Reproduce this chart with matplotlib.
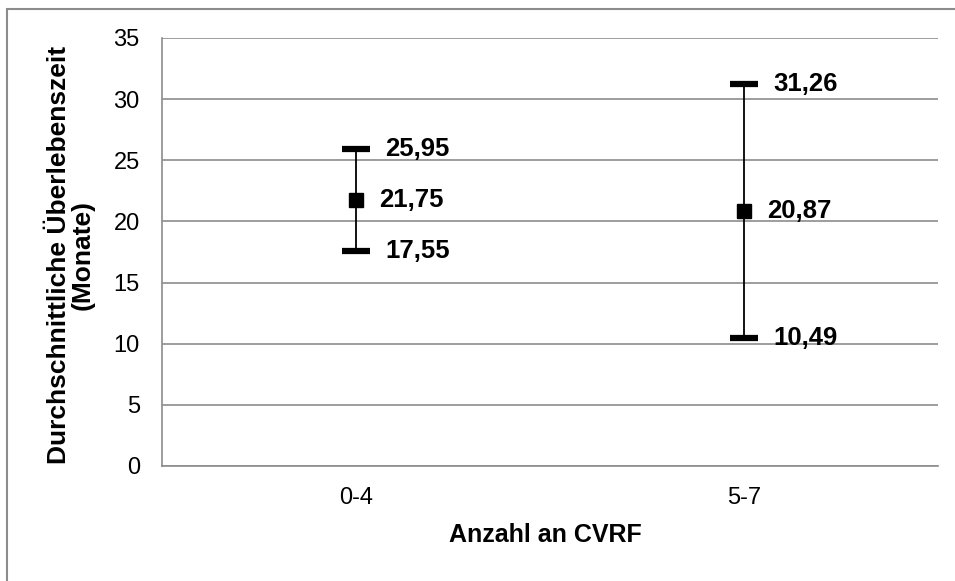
import matplotlib
matplotlib.use('Agg')
import matplotlib.pyplot as plt
from matplotlib.patches import Rectangle

plt.rcParams['font.family'] = ['Liberation Sans', 'DejaVu Sans']

# Mittlere Überlebenszeit mit Konfidenzgrenzen je CVRF-Gruppe
groups = ["0-4", "5-7"]
means = [21.75, 20.87]
lower = [17.55, 10.49]
upper = [25.95, 31.26]
yticks = [0, 5, 10, 15, 20, 25, 30, 35]

fig = plt.figure(figsize=(9.55, 5.81), dpi=100)
ax = fig.add_axes([162 / 955, 1 - 466 / 581, 776 / 955, 428 / 581])

# Rahmen um das Diagramm (rechts/unten abgeschnitten)
fig.patches.append(Rectangle((6.5 / 955, -0.1), 1.2, 1 - 8.5 / 581 + 0.1,
                             transform=fig.transFigure, fill=False,
                             edgecolor='#8c8c8c', linewidth=1.5))


def fmt(v):
    return f"{v:.2f}".replace('.', ',')


x = list(range(len(groups)))
for i in x:
    ax.plot([i, i], [lower[i], upper[i]], color='black', linewidth=1.3, zorder=3)
    for v in (lower[i], upper[i]):
        ax.plot([i - 0.037, i + 0.037], [v, v], color='black', linewidth=4.5,
                solid_capstyle='butt', zorder=4)
        ax.text(i + 0.075, v, fmt(v), fontsize=18.5, fontweight='bold',
                va='center', ha='left')
    ax.plot(i, means[i], marker='s', markersize=10, color='black', zorder=5)
    ax.text(i + 0.059, means[i], fmt(means[i]), fontsize=18.5,
            fontweight='bold', va='center', ha='left')

ax.set_xlim(-0.5, len(groups) - 0.5)
ax.set_ylim(0, 35)
ax.set_yticks(yticks)
ax.set_xticks(x)
ax.set_xticklabels(groups)
ax.tick_params(axis='both', length=0, labelsize=17)
ax.tick_params(axis='y', pad=16)
ax.tick_params(axis='x', pad=15)
ax.yaxis.grid(True, color='#8c8c8c', linewidth=1.2)
ax.set_axisbelow(True)
for side in ('top', 'right'):
    ax.spines[side].set_visible(False)
for side in ('left', 'bottom'):
    ax.spines[side].set_color('#8c8c8c')
    ax.spines[side].set_linewidth(1.2)

ax.set_xlabel("Anzahl an CVRF", fontsize=18, fontweight='bold', va='center')
ax.xaxis.set_label_coords((545 - 162) / 776, -(535 - 466) / 428)
ax.set_ylabel("Durchschnittliche Überlebenszeit\n(Monate)", fontsize=19,
              fontweight='bold', va='center', linespacing=0.95)
ax.yaxis.set_label_coords(-(162 - 71) / 776, (466 - 255) / 428)

fig.savefig('out.png', dpi=100)
